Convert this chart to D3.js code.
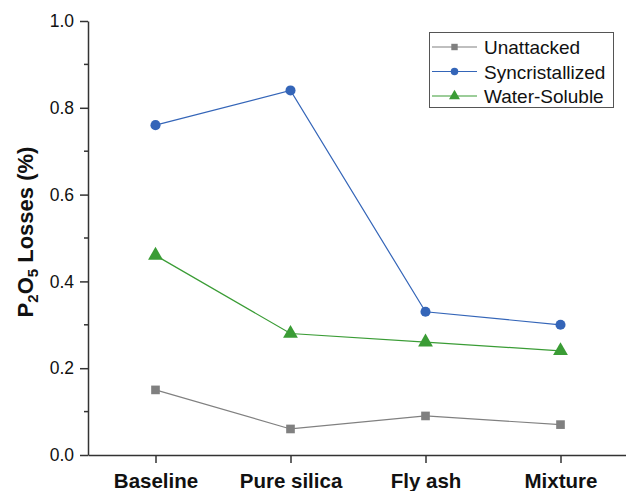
<!DOCTYPE html>
<html>
<head>
<meta charset="utf-8">
<script src="https://cdn.jsdelivr.net/npm/d3@7"></script>
<style>
  body { margin: 0; background: #fff; }
  svg { font-family: Arial, "Liberation Sans", sans-serif; }
</style>
</head>
<body>
<svg id="chart" width="626" height="491"></svg>
<script>
var categories = ["Baseline", "Pure silica", "Fly ash", "Mixture"];
var unattacked = [0.15, 0.06, 0.09, 0.07];
var syncristallized = [0.76, 0.84, 0.33, 0.30];
var waterSoluble = [0.46, 0.28, 0.26, 0.24];
var seriesNames = ["Unattacked", "Syncristallized", "Water-Soluble"];
var yTicks = [0, 0.2, 0.4, 0.6, 0.8, 1.0];
var yMinorTicks = [0.1, 0.3, 0.5, 0.7, 0.9];

var colors = ["#808080", "#3465b8", "#3a9c35"];
var shapes = [d3.symbolSquare, d3.symbolCircle, d3.symbolTriangle];
var sizes = [75, 80, 95];

var svg = d3.select("#chart");

var x = d3.scalePoint()
  .domain(categories)
  .range([88, 628])
  .padding(0.5);

var y = d3.scaleLinear()
  .domain([0, 1])
  .range([455, 21]);

// axes
var xAxis = svg.append("g")
  .attr("transform", "translate(0,455)")
  .call(d3.axisBottom(x).tickSize(8).tickSizeOuter(0));
xAxis.select(".domain").attr("stroke", "#333").attr("stroke-width", 1.5);
xAxis.selectAll(".tick line").attr("stroke", "#333").attr("stroke-width", 1.5);
xAxis.selectAll(".tick text")
  .attr("dy", 0)
  .attr("y", 33)
  .attr("fill", "#111")
  .style("font-size", "20.5px")
  .style("font-weight", "bold");

var yAxis = svg.append("g")
  .attr("transform", "translate(88,0)")
  .call(d3.axisLeft(y).tickValues(yTicks).tickFormat(d3.format(".1f")).tickSize(8).tickSizeOuter(0));
yAxis.select(".domain").attr("stroke", "#333").attr("stroke-width", 1.5);
yAxis.selectAll(".tick line").attr("stroke", "#333").attr("stroke-width", 1.5);
yAxis.selectAll(".tick text")
  .attr("x", -14)
  .attr("fill", "#111")
  .style("font-size", "17.5px");

svg.append("g")
  .attr("transform", "translate(88,0)")
  .selectAll("line")
  .data(yMinorTicks)
  .enter().append("line")
  .attr("x1", -4)
  .attr("x2", 0)
  .attr("y1", function(d) { return y(d); })
  .attr("y2", function(d) { return y(d); })
  .attr("stroke", "#333")
  .attr("stroke-width", 1.5);

// y axis title with subscripts
var title = svg.append("text")
  .attr("transform", "translate(33,232) rotate(-90)")
  .attr("text-anchor", "middle")
  .attr("fill", "#111")
  .style("font-size", "22px")
  .style("font-weight", "bold");
title.append("tspan").text("P");
title.append("tspan").attr("dy", 5).style("font-size", "15px").text("2");
title.append("tspan").attr("dy", -5).text("O");
title.append("tspan").attr("dy", 5).style("font-size", "15px").text("5");
title.append("tspan").attr("dy", -5).text(" Losses (%)");

// series
var allSeries = [unattacked, syncristallized, waterSoluble];
var line = d3.line()
  .x(function(d, i) { return x(categories[i]); })
  .y(function(d) { return y(d); });

for (var s = 0; s < allSeries.length; s++) {
  svg.append("path")
    .datum(allSeries[s])
    .attr("d", line)
    .attr("fill", "none")
    .attr("stroke", colors[s])
    .attr("stroke-width", 1.2);

  svg.append("g").selectAll("path")
    .data(allSeries[s])
    .enter().append("path")
    .attr("transform", function(d, i) { return "translate(" + x(categories[i]) + "," + y(d) + ")"; })
    .attr("d", d3.symbol().type(shapes[s]).size(sizes[s]))
    .attr("fill", colors[s]);
}

// legend
var legend = svg.append("g");
legend.append("rect")
  .attr("x", 429.5)
  .attr("y", 32.5)
  .attr("width", 184)
  .attr("height", 75)
  .attr("fill", "#fff")
  .attr("stroke", "#555")
  .attr("stroke-width", 1);

for (var k = 0; k < seriesNames.length; k++) {
  var ly = 47 + k * 24.5;
  legend.append("line")
    .attr("x1", 432)
    .attr("x2", 477)
    .attr("y1", ly)
    .attr("y2", ly)
    .attr("stroke", colors[k])
    .attr("stroke-width", 1.2);
  legend.append("path")
    .attr("transform", "translate(454.5," + ly + ")")
    .attr("d", d3.symbol().type(shapes[k]).size(sizes[k] * 0.55))
    .attr("fill", colors[k]);
  legend.append("text")
    .attr("x", 484)
    .attr("y", ly + 7)
    .attr("fill", "#111")
    .style("font-size", "19px")
    .text(seriesNames[k]);
}
</script>
</body>
</html>
